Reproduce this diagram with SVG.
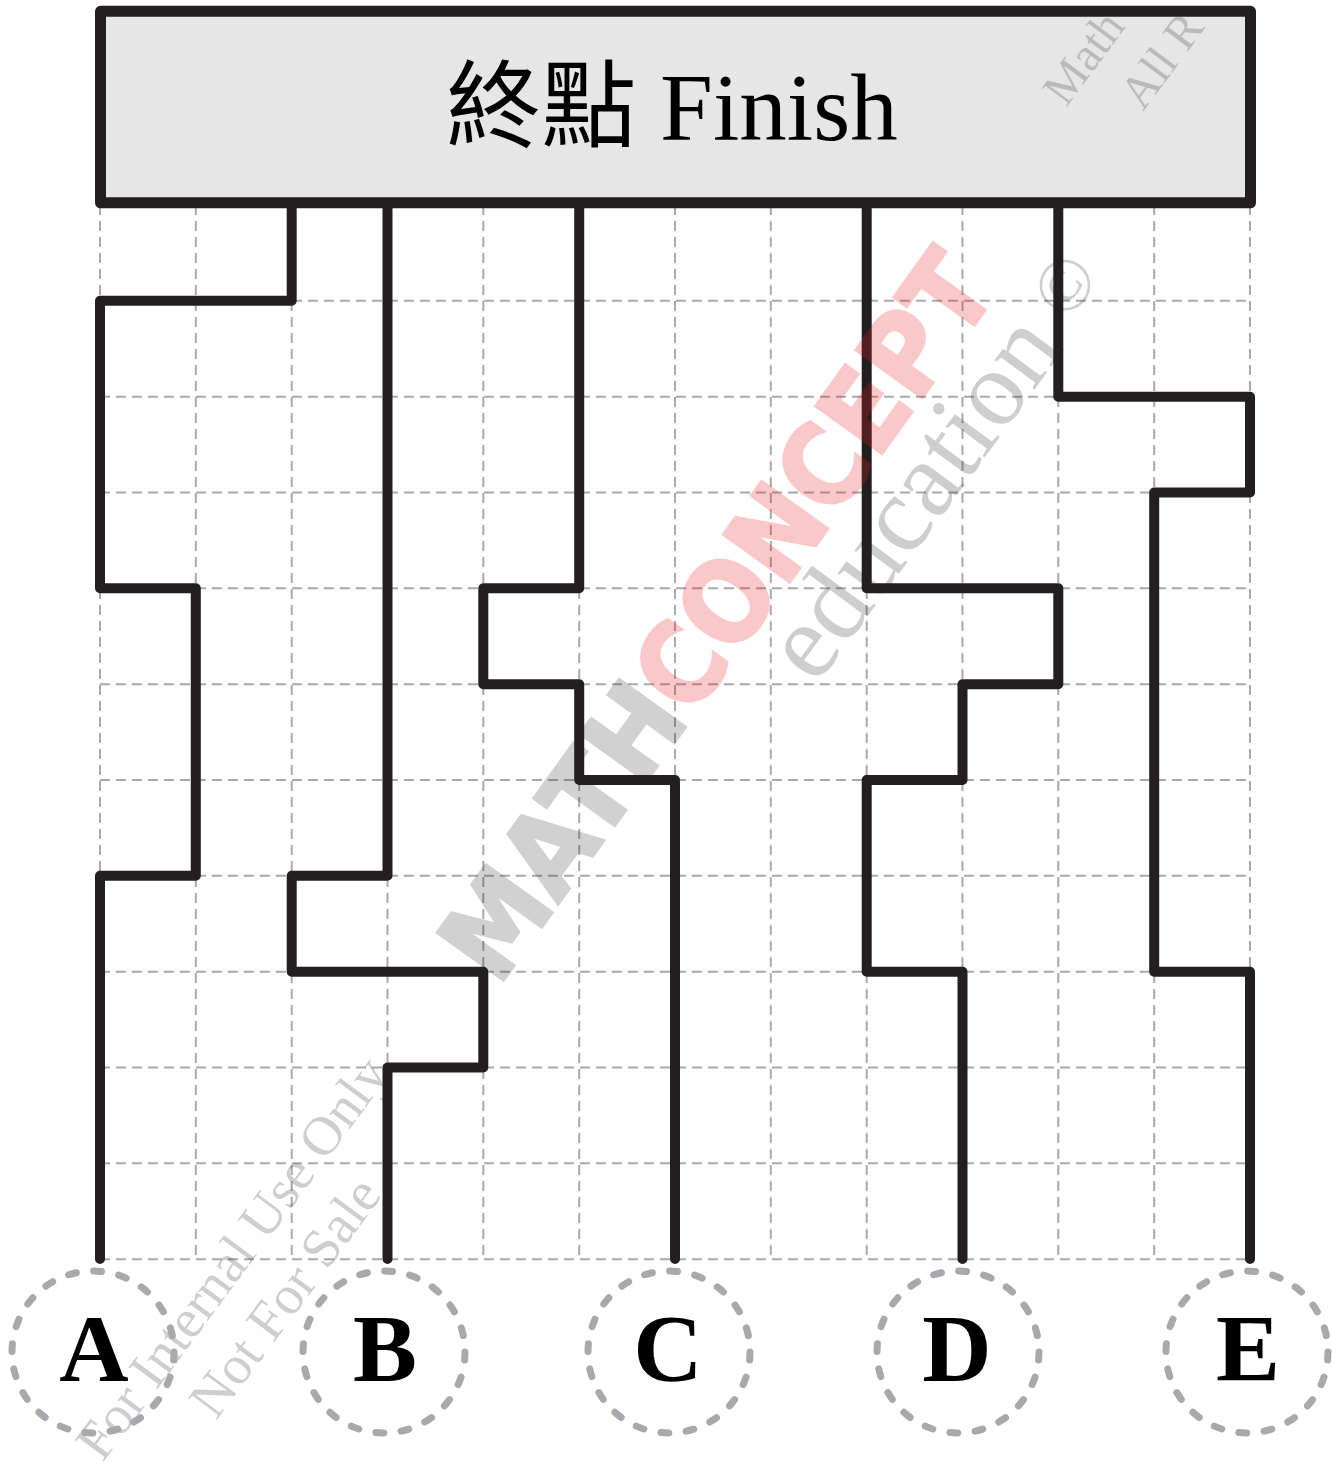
<svg xmlns="http://www.w3.org/2000/svg" width="1332" height="1474" viewBox="0 0 1332 1474">
<style>
.grid line{stroke:#a7a9ac;stroke-width:2;stroke-dasharray:10 6;fill:none}
.route{fill:none;stroke:#231f20;stroke-width:10;stroke-linejoin:round;stroke-linecap:round}
.ring{fill:none;stroke:#a7a9ac;stroke-width:7;stroke-dasharray:8 17.45;stroke-linecap:round}
.lbl{font-family:"Liberation Serif","Times New Roman",serif;font-weight:bold;font-size:96px;fill:#000;text-anchor:middle}
.wm{font-family:"Liberation Serif","Times New Roman",serif;fill:#231f20;fill-opacity:0.22}
.logo{font-family:"DejaVu Sans",sans-serif;font-weight:bold;font-size:112px}
</style>
<rect width="1332" height="1474" fill="#ffffff"/>
<g class="grid" id="grid">
<line x1="100" y1="205" x2="100" y2="1259"/>
<line x1="195.8" y1="205" x2="195.8" y2="1259"/>
<line x1="291.7" y1="205" x2="291.7" y2="1259"/>
<line x1="387.5" y1="205" x2="387.5" y2="1259"/>
<line x1="483.3" y1="205" x2="483.3" y2="1259"/>
<line x1="579.2" y1="205" x2="579.2" y2="1259"/>
<line x1="675" y1="205" x2="675" y2="1259"/>
<line x1="770.8" y1="205" x2="770.8" y2="1259"/>
<line x1="866.7" y1="205" x2="866.7" y2="1259"/>
<line x1="962.5" y1="205" x2="962.5" y2="1259"/>
<line x1="1058.3" y1="205" x2="1058.3" y2="1259"/>
<line x1="1154.2" y1="205" x2="1154.2" y2="1259"/>
<line x1="1250" y1="205" x2="1250" y2="1259"/>
<line x1="100" y1="300.8" x2="1250" y2="300.8"/>
<line x1="100" y1="396.7" x2="1250" y2="396.7"/>
<line x1="100" y1="492.5" x2="1250" y2="492.5"/>
<line x1="100" y1="588.3" x2="1250" y2="588.3"/>
<line x1="100" y1="684.2" x2="1250" y2="684.2"/>
<line x1="100" y1="780" x2="1250" y2="780"/>
<line x1="100" y1="875.8" x2="1250" y2="875.8"/>
<line x1="100" y1="971.7" x2="1250" y2="971.7"/>
<line x1="100" y1="1067.5" x2="1250" y2="1067.5"/>
<line x1="100" y1="1163.3" x2="1250" y2="1163.3"/>
<line x1="100" y1="1259.2" x2="1250" y2="1259.2"/>
</g>
<g id="watermarks-under">
<text class="wm" transform="translate(816,686) rotate(-53.6)" font-size="108">education<tspan font-size="75" dx="22" dy="-13">©</tspan></text>
<g transform="translate(232,1258) rotate(-53.5)">
<text class="wm" font-size="55" text-anchor="middle" y="18">For Internal Use Only</text>
<text class="wm" font-size="55" text-anchor="middle" y="84">Not For Sale</text>
</g>
</g>
<g id="connectors">
<path class="route" d="M100,1259 V875.8 H195.8 V588.3 H100 V300.8 H291.7 V203"/>
<path class="route" d="M387.5,1259 V1067.5 H483.3 V971.7 H291.7 V875.8 H387.5 V203"/>
<path class="route" d="M675,1259 V780 H579.2 V684.2 H483.3 V588.3 H579.2 V203"/>
<path class="route" d="M962.5,1259 V971.7 H866.7 V780 H962.5 V684.2 H1058.3 V588.3 H866.7 V203"/>
<path class="route" d="M1250,1259 V971.7 H1154.2 V492.5 H1250 V396.7 H1058.3 V203"/>
</g>
<g id="finish">
<rect x="100.5" y="11.3" width="1150" height="191.5" fill="#e6e6e6" stroke="#231f20" stroke-width="11" stroke-linejoin="round"/>
<text x="672" y="140" font-family="Liberation Serif, Noto Sans CJK TC, serif" font-size="95" text-anchor="middle" fill="#000">終點 Finish</text>
</g>
<g id="start-A"><ellipse class="ring" cx="93" cy="1352" rx="81" ry="81"/><text class="lbl" x="94" y="1381">A</text></g>
<g id="start-B"><ellipse class="ring" cx="384" cy="1352" rx="81" ry="81"/><text class="lbl" x="385" y="1381">B</text></g>
<g id="start-C"><ellipse class="ring" cx="669" cy="1352" rx="81" ry="81"/><text class="lbl" x="668" y="1381">C</text></g>
<g id="start-D"><ellipse class="ring" cx="958" cy="1352" rx="81" ry="81"/><text class="lbl" x="957" y="1381">D</text></g>
<g id="start-E"><ellipse class="ring" cx="1247" cy="1352" rx="81" ry="81"/><text class="lbl" x="1248" y="1381">E</text></g>
<g id="watermarks-over">
<g transform="translate(498,988) rotate(-54.3)">
<g opacity="0.2"><text class="logo" fill="#231f20" stroke="#231f20" stroke-width="3" textLength="331" lengthAdjust="spacingAndGlyphs">MATH</text></g>
<g opacity="0.24"><text class="logo" x="331" fill="#ed1c24" stroke="#ed1c24" stroke-width="3" textLength="529" lengthAdjust="spacingAndGlyphs">CONCEPT</text></g>
</g>
<text class="wm" transform="translate(1066,108) rotate(-53.5)" font-size="48">Math</text>
<text class="wm" transform="translate(1143,112) rotate(-53.5)" font-size="48">All R</text>
</g>
</svg>
